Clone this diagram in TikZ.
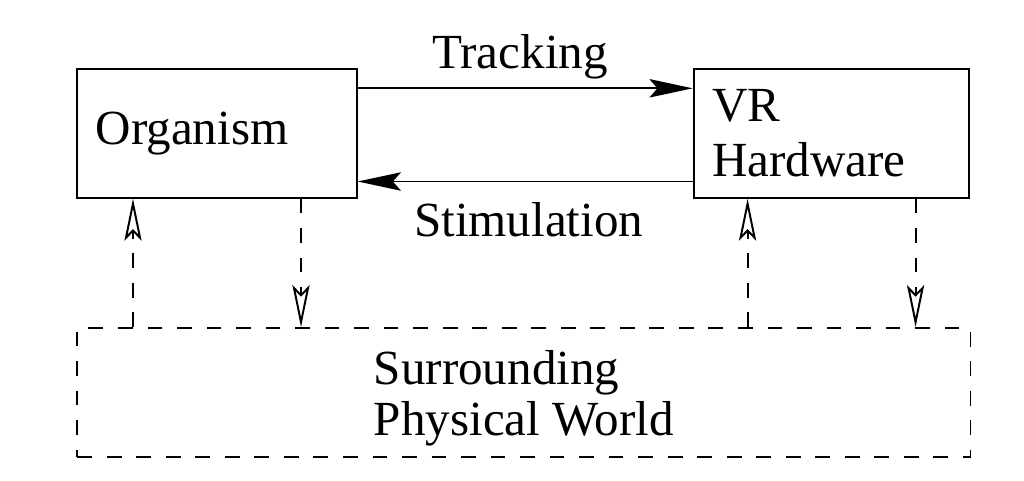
\documentclass[tikz,border=0pt]{standalone}
\usepackage{fontspec}
\setmainfont{Liberation Serif}
\usetikzlibrary{arrows.meta, positioning}
\tikzset{
  box/.style={draw, line width=1.4pt, inner xsep=0.46cm, inner ysep=0pt,
    minimum height=3.21cm, align=left, font=\fontsize{34.9}{39.1}\selectfont},
  worldbox/.style={box, dash pattern=on 10.5pt off 10.5pt, inner xsep=0pt,
    minimum width=22.33cm, minimum height=3.225cm, text depth=0pt,
    font=\fontsize{34.9}{36.3}\selectfont},
  signal/.style={line width=1.4pt,
    -{Stealth[length=1.08cm, width=0.46cm, inset=0.2cm]}},
  physical/.style={line width=1.4pt, dash pattern=on 10.5pt off 10.5pt,
    -{Stealth[open, length=1.05cm, width=0.43cm, inset=0.22cm]}},
  lbl/.style={inner sep=0pt, font=\fontsize{34.9}{39.1}\selectfont}
}
\begin{document}
\begin{tikzpicture}
    \useasboundingbox (0,0) rectangle (25.6,-12);

    \node[box, text width=6.065cm] (org) at (5.425,-3.3375) {Organism};
    \node[box, text width=5.975cm, right=8.375cm of org] (vr) {VR\\Hardware};
    \node[worldbox, below right=3.21cm and 0cm of org.south west]
      (world) {Surrounding\\Physical World};

    % organism <-> vr hardware
    \draw[signal] ([yshift=1.13cm]org.east) -- ([yshift=1.13cm]org.east -| vr.west)
      node [lbl, midway, above=0.2cm, xshift=-0.13cm] (track) {Tracking};
    \draw[signal] ([yshift=-1.2cm]org.east -| vr.west) -- ([yshift=-1.2cm]org.east)
      node [lbl, midway, below=0.5cm, xshift=0.085cm] (stim) {Stimulation};

    % exchange with the surrounding world
    \draw[physical] ([xshift=-2.1cm]org.south |- world.north) -- ([xshift=-2.1cm]org.south);
    \draw[physical] ([xshift=2.1cm]org.south) -- ([xshift=2.1cm]org.south |- world.north);
    \draw[physical] ([xshift=-2.1cm]vr.south |- world.north) -- ([xshift=-2.1cm]vr.south);
    \draw[physical] ([xshift=2.1cm]vr.south) -- ([xshift=2.1cm]vr.south |- world.north);
\end{tikzpicture}
\end{document}
